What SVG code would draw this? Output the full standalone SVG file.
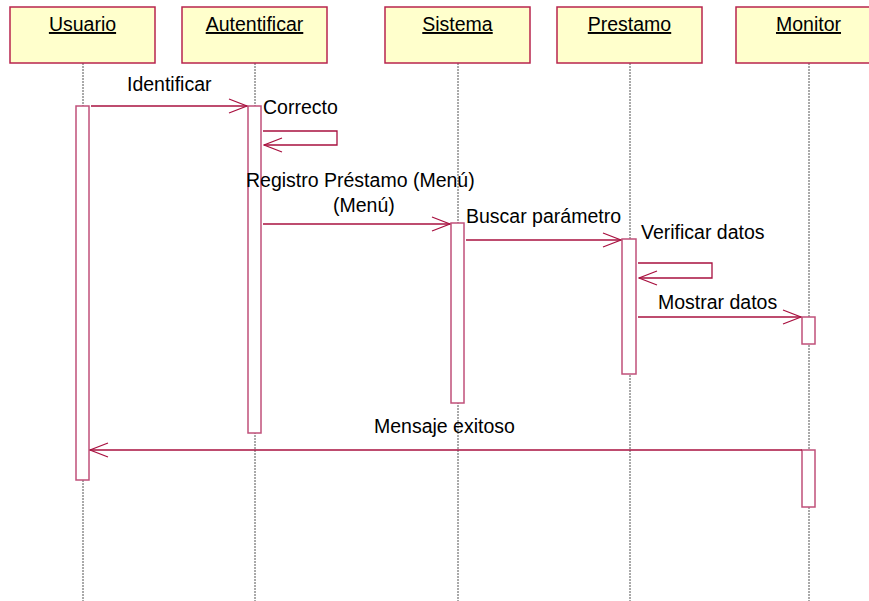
<svg xmlns="http://www.w3.org/2000/svg" width="869" height="601" viewBox="0 0 869 601">
<style>
.obj{fill:#FFFFCC;stroke:#B8244E;stroke-width:1.5}
.ttl{font-family:"Liberation Sans",Arial,sans-serif;font-size:19.5px;fill:#000;text-anchor:middle;text-decoration:underline}
.lbl{font-family:"Liberation Sans",Arial,sans-serif;font-size:19.5px;fill:#000}
.life{stroke:#555;stroke-width:1;stroke-dasharray:2,1;fill:none}
.act{fill:#fff;stroke:#C0507A;stroke-width:1.5}
.msg{stroke:#A8103F;stroke-width:1.3;fill:none;marker-end:url(#arr)}
</style>
<defs>
<marker id="arr" viewBox="0 0 20 16" refX="19" refY="8" markerWidth="20" markerHeight="16" markerUnits="userSpaceOnUse" orient="auto">
<path d="M1,1 L19,8 L1,15" fill="none" stroke="#A8103F" stroke-width="1.3"/>
</marker>
</defs>
<rect width="869" height="601" fill="#fff"/>
<g id="lifelines">
<line class="life" x1="83" y1="63" x2="83" y2="601"/>
<line class="life" x1="255" y1="63" x2="255" y2="601"/>
<line class="life" x1="458" y1="63" x2="458" y2="601"/>
<line class="life" x1="630" y1="63" x2="630" y2="601"/>
<line class="life" x1="809" y1="63" x2="809" y2="601"/>
</g>
<g id="usuario">
<rect class="obj" x="10" y="7" width="145" height="56"/>
<text class="ttl" x="82.5" y="31">Usuario</text>
<rect class="act" x="76" y="106" width="13" height="374"/>
</g>
<g id="autentificar">
<rect class="obj" x="182" y="7" width="145" height="56"/>
<text class="ttl" x="254.5" y="31">Autentificar</text>
<rect class="act" x="248" y="106" width="13" height="327"/>
</g>
<g id="sistema">
<rect class="obj" x="385" y="7" width="145" height="56"/>
<text class="ttl" x="457.5" y="31">Sistema</text>
<rect class="act" x="451" y="223" width="13" height="180"/>
</g>
<g id="prestamo">
<rect class="obj" x="557" y="7" width="145" height="56"/>
<text class="ttl" x="629.5" y="31">Prestamo</text>
<rect class="act" x="622" y="239" width="14" height="135"/>
</g>
<g id="monitor">
<rect class="obj" x="736" y="7" width="145" height="56"/>
<text class="ttl" x="808.5" y="31">Monitor</text>
<rect class="act" x="802" y="317" width="13" height="27"/>
<rect class="act" x="802" y="450" width="13" height="57"/>
</g>
<g id="connectors">
<line class="msg" x1="91" y1="106" x2="247" y2="106"/>
<path class="msg" d="M263,131 H337 V145 H264"/>
<line class="msg" x1="263" y1="224" x2="450" y2="224"/>
<line class="msg" x1="466" y1="240" x2="621" y2="240"/>
<path class="msg" d="M638,263 H712 V278 H639"/>
<line class="msg" x1="638" y1="317" x2="801" y2="317"/>
<line class="msg" x1="802" y1="450" x2="90" y2="450"/>
</g>
<g id="labels">
<text class="lbl" x="127" y="91">Identificar</text>
<text class="lbl" x="263" y="114">Correcto</text>
<text class="lbl" x="246" y="187">Registro Préstamo (Menú)</text>
<text class="lbl" x="333" y="212">(Menú)</text>
<text class="lbl" x="466" y="223">Buscar parámetro</text>
<text class="lbl" x="641" y="239">Verificar datos</text>
<text class="lbl" x="658" y="309">Mostrar datos</text>
<text class="lbl" x="374" y="433">Mensaje exitoso</text>
</g>
</svg>
